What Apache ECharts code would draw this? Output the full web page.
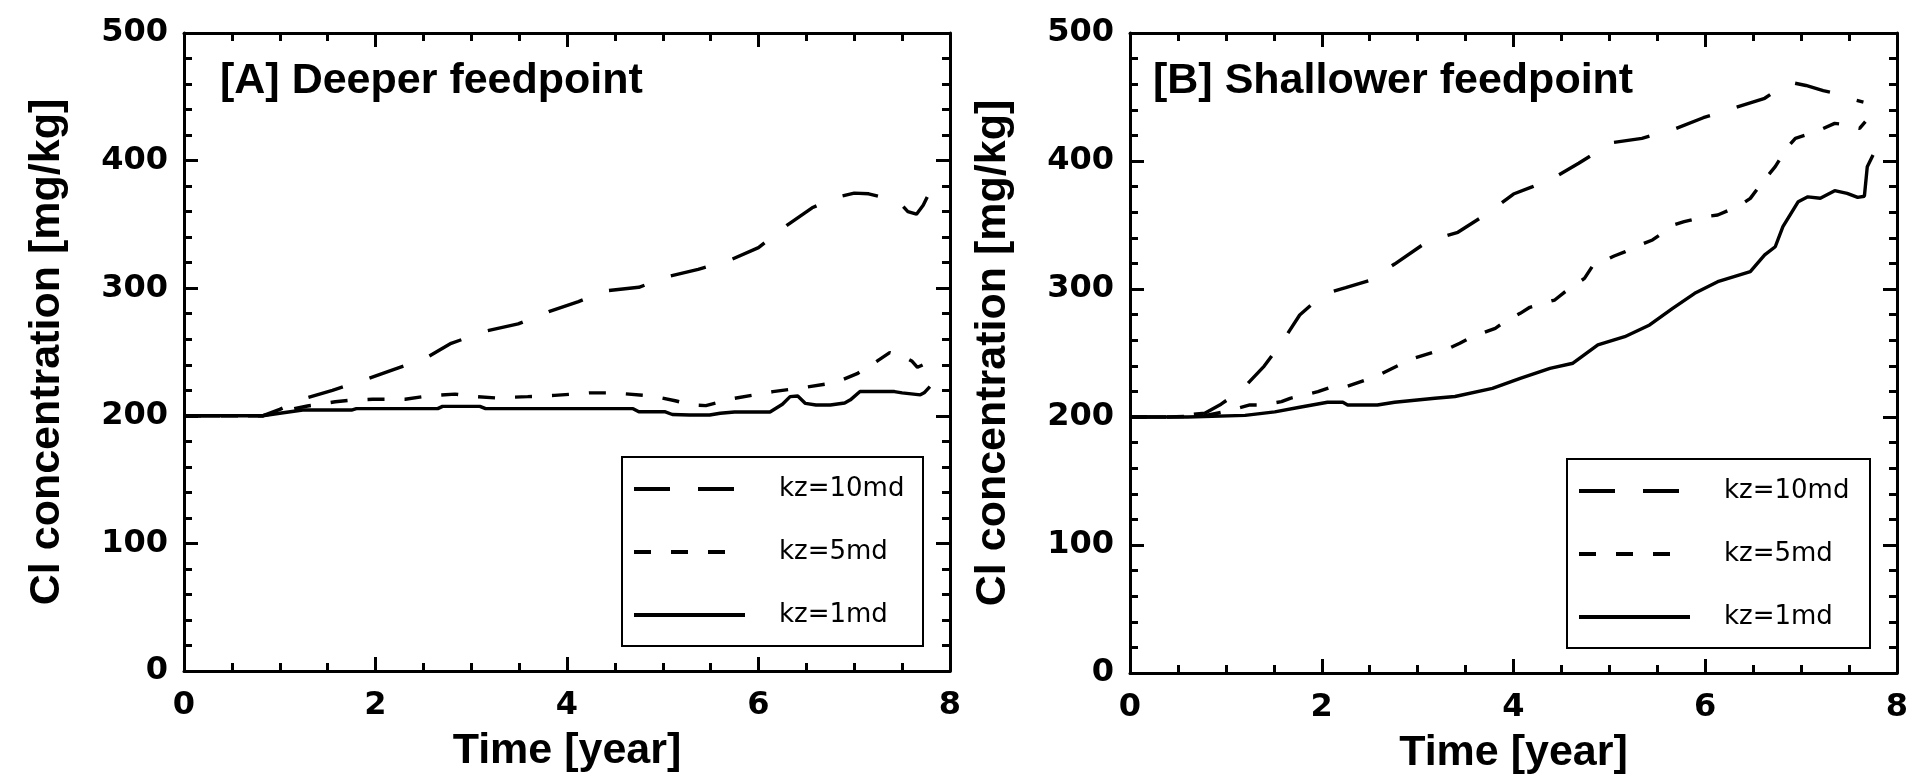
<!DOCTYPE html>
<html>
<head>
<meta charset="utf-8">
<script src="https://cdn.jsdelivr.net/npm/echarts@6/dist/echarts.min.js"></script>
<style>
html,body{margin:0;padding:0;background:#fff;}
#chart{width:1916px;height:783px;}
</style>
</head>
<body>
<div id="chart"></div>
<script>
// ---- Data ----
const xTicks = [0, 2, 4, 6, 8];
const yTicks = [0, 100, 200, 300, 400, 500];
const seriesNames = ['kz=10md', 'kz=5md', 'kz=1md'];
const panelTitles = ['[A] Deeper feedpoint', '[B] Shallower feedpoint'];

// Panel A : Deeper feedpoint
const tA10 = [0, 0.4, 0.82, 1.0, 1.24, 1.55, 1.92, 2.18, 2.51, 2.79, 3.16, 3.49, 3.81, 4.12, 4.41, 4.75, 5.08, 5.37, 5.69, 6.0, 6.3, 6.56, 6.8, 7.0, 7.15, 7.27, 7.4, 7.48, 7.56, 7.65, 7.72, 7.79];
const vA10 = [200, 200, 200, 205, 213, 220, 229, 236, 244.5, 256.8, 266.5, 272, 281.6, 289.5, 298, 300.7, 309.6, 314.8, 321.6, 331.8, 349.5, 363, 371, 374.5, 374, 371.7, 369, 366.5, 360, 358, 365, 375.6];

const tA5 = [0, 0.4, 0.82, 1.05, 1.29, 1.58, 1.71, 1.97, 2.31, 2.57, 2.83, 3.05, 3.25, 3.59, 3.87, 4.24, 4.47, 4.89, 5.13, 5.3, 5.45, 5.75, 6.15, 6.41, 6.8, 7.03, 7.2, 7.37, 7.5, 7.6, 7.66, 7.72, 7.78];
const vA5 = [200, 200, 200, 204, 207.7, 211, 212, 213, 213, 215.8, 217, 215, 214, 215, 216, 218, 218, 215.5, 211.8, 208.5, 208, 213.7, 218.9, 221.5, 226, 233, 241, 249.5, 247, 243, 238, 240, 245];

const tA1 = [0, 0.82, 1.0, 1.24, 1.75, 1.8, 2.65, 2.7, 3.09, 3.15, 4.69, 4.75, 5.02, 5.1, 5.28, 5.49, 5.6, 5.75, 6.12, 6.25, 6.33, 6.41, 6.49, 6.6, 6.75, 6.9, 6.96, 7.06, 7.42, 7.5, 7.69, 7.73, 7.79];
const vA1 = [200, 200, 202, 204.5, 204.5, 205.6, 205.6, 207.4, 207.4, 205.6, 205.6, 203.2, 203.2, 201, 200.6, 200.6, 202, 203, 203, 209, 215, 215.5, 209.7, 208.5, 208.5, 210, 212.5, 219, 219, 218, 216.4, 218, 222.9];

// Panel B : Shallower feedpoint
const tB10 = [0, 0.4, 0.78, 0.95, 1.17, 1.4, 1.6, 1.77, 2.02, 2.25, 2.49, 2.76, 3.1, 3.42, 3.74, 4.0, 4.2, 4.4, 4.68, 5.02, 5.34, 5.67, 5.98, 6.31, 6.62, 6.8, 6.92, 7.05, 7.23, 7.4, 7.56, 7.65];
const vB10 = [200, 200, 203, 210, 221.6, 239.8, 260, 279.7, 296, 301, 306.5, 319.5, 337, 344.3, 359.6, 374.2, 380, 386, 398.2, 414.3, 417.7, 424.7, 433.8, 441.6, 449, 458, 461, 459, 455, 452, 447.7, 446];

const tB5 = [0, 0.4, 0.78, 1.04, 1.25, 1.38, 1.58, 1.67, 1.96, 2.06, 2.16, 2.27, 2.5, 2.63, 2.83, 2.92, 3.18, 3.29, 3.44, 3.57, 3.81, 3.91, 4.07, 4.17, 4.43, 4.54, 4.74, 4.82, 5.05, 5.16, 5.34, 5.45, 5.67, 5.78, 5.99, 6.13, 6.35, 6.47, 6.6, 6.73, 6.85, 6.94, 7.16, 7.35, 7.5, 7.61, 7.67];
const vB5 = [200, 200, 201, 205, 209.4, 209.4, 212, 214.6, 219.8, 222.4, 225, 224, 230, 234, 241.4, 245, 251, 252.3, 257.6, 262.7, 269.3, 274.5, 281, 285.7, 291.4, 297.9, 308.3, 317.4, 325.8, 329, 335, 338.3, 350, 352.6, 356.5, 357.8, 364.8, 370.8, 383.8, 395.6, 410, 417.7, 423, 429.4, 428, 425.5, 430.7];

const tB1 = [0, 0.6, 1.2, 1.51, 1.77, 2.06, 2.22, 2.27, 2.58, 2.76, 3.18, 3.39, 3.78, 4.07, 4.38, 4.62, 4.88, 5.16, 5.42, 5.66, 5.89, 6.13, 6.47, 6.62, 6.73, 6.81, 6.97, 7.07, 7.2, 7.35, 7.48, 7.59, 7.66, 7.69, 7.75];
const vB1 = [200, 200, 201.3, 204, 207.6, 211.5, 211.5, 209.4, 209.4, 211.5, 214.6, 216, 222.4, 230.2, 238, 242, 256.3, 262.7, 271.9, 284.9, 296.6, 305.7, 313.5, 326.6, 333, 348.7, 368.2, 372, 370.9, 376.8, 374.7, 371.6, 372.5, 395.6, 404.7];

// ---- Build chart ----
const pair = (t, v) => t.map((x, i) => [x, v[i]]);
const dashTypes = [[36, 28], [17, 20], 'solid'];

const grids = [
  {left: 184, top: 33, width: 766, height: 638},
  {left: 1130, top: 33, width: 767, height: 640}
];

const tickFont = {fontFamily: 'DejaVu Sans', fontWeight: 'bold', fontSize: 32, color: '#000'};
const nameFont = {fontFamily: 'Liberation Sans', fontWeight: 'bold', fontSize: 43, lineHeight: 44, color: '#000'};

function xAx(g, pos) {
  const main = pos === 'bottom';
  return {
    type: 'value', gridIndex: g, position: pos, min: xTicks[0], max: xTicks[xTicks.length - 1], interval: 2,
    name: main ? 'Time [year]' : '', nameLocation: 'middle', nameGap: 58, nameTextStyle: nameFont,
    axisLine: {show: true, onZero: false, lineStyle: {color: '#000', width: 3}},
    axisTick: {show: true, inside: true, length: 14, lineStyle: {color: '#000', width: 3}},
    minorTick: {show: true, splitNumber: 4, length: 8, lineStyle: {color: '#000', width: 3}},
    axisLabel: {show: main, margin: 19, ...tickFont},
    splitLine: {show: false}, minorSplitLine: {show: false}
  };
}
function yAx(g, pos) {
  const main = pos === 'left';
  return {
    type: 'value', gridIndex: g, position: pos, min: yTicks[0], max: yTicks[yTicks.length - 1], interval: 100,
    name: main ? 'Cl concentration [mg/kg]' : '', nameLocation: 'middle', nameGap: 115, nameRotate: 90, nameTextStyle: nameFont,
    axisLine: {show: true, onZero: false, lineStyle: {color: '#000', width: 3}},
    axisTick: {show: true, inside: true, length: 14, lineStyle: {color: '#000', width: 3}},
    minorTick: {show: true, splitNumber: 5, length: 8, lineStyle: {color: '#000', width: 3}},
    axisLabel: {show: main, margin: 16, ...tickFont},
    splitLine: {show: false}, minorSplitLine: {show: false}
  };
}

const dataSets = [
  [pair(tA10, vA10), pair(tA5, vA5), pair(tA1, vA1)],
  [pair(tB10, vB10), pair(tB5, vB5), pair(tB1, vB1)]
];
const series = [];
dataSets.forEach((sets, g) => {
  sets.forEach((d, k) => {
    series.push({
      type: 'line', name: seriesNames[k], xAxisIndex: g * 2, yAxisIndex: g * 2,
      data: d, symbol: 'none', showSymbol: false, smooth: false,
      lineStyle: {color: '#000', width: 3.4, type: dashTypes[k]},
      itemStyle: {color: '#000'}
    });
  });
});

function legendAt(left, top, width) {
  return {
    orient: 'vertical', left: left, top: top, data: seriesNames,
    itemWidth: 111, itemHeight: 30, itemGap: 33,
    padding: [17, width - 10 - 111 - 5 - 29 - 130, 16, 10],
    borderColor: '#000', borderWidth: 2, backgroundColor: '#fff',
    selectedMode: false,
    itemStyle: {opacity: 0},
    lineStyle: {width: 4},
    textStyle: {fontFamily: 'DejaVu Sans', fontSize: 26, lineHeight: 30, color: '#000', width: 130, padding: [0, 0, 0, 29]}
  };
}

const option = {
  animation: false,
  backgroundColor: '#fff',
  title: [
    {text: panelTitles[0], left: 220, top: 59, padding: 0, textStyle: {...nameFont}},
    {text: panelTitles[1], left: 1153, top: 59, padding: 0, textStyle: {...nameFont}}
  ],
  grid: grids,
  xAxis: [xAx(0, 'bottom'), xAx(0, 'top'), xAx(1, 'bottom'), xAx(1, 'top')],
  yAxis: [yAx(0, 'left'), yAx(0, 'right'), yAx(1, 'left'), yAx(1, 'right')],
  legend: [legendAt(622, 457, 299), legendAt(1567, 459, 301)],
  series: series
};

const chart = echarts.init(document.getElementById('chart'), null, {renderer: 'canvas'});
chart.setOption(option);
</script>
</body>
</html>
